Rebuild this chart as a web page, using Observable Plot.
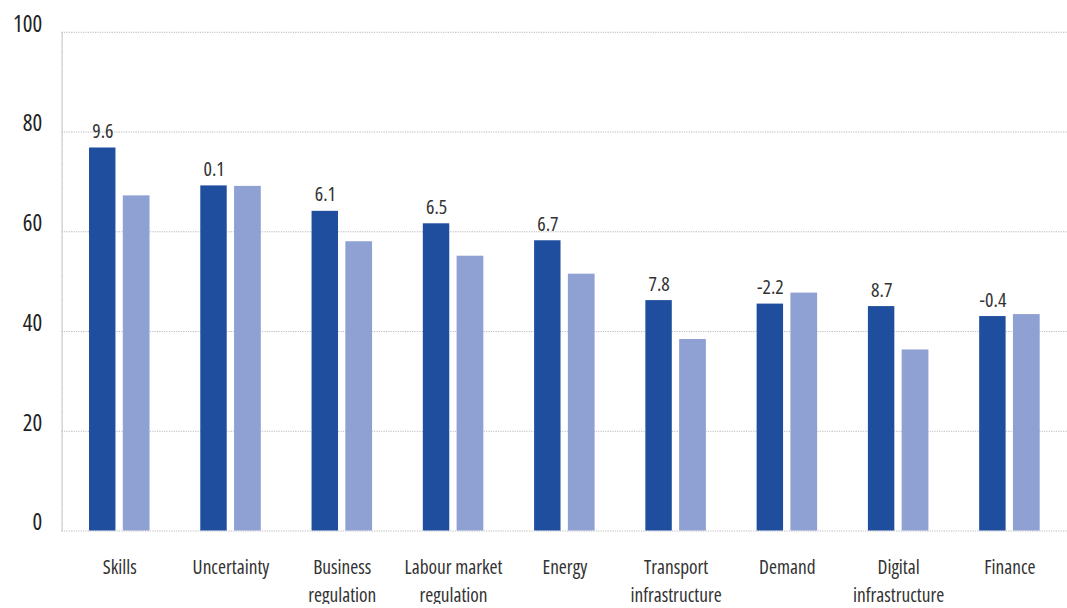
<!DOCTYPE html>
<html>
<head>
<meta charset="utf-8">
<script src="https://cdn.jsdelivr.net/npm/d3@7"></script>
<script src="https://cdn.jsdelivr.net/npm/@observablehq/plot@0.6"></script>
<style>
  html, body { margin: 0; padding: 0; background: #fff; overflow: hidden; }
  #chart svg { display: block; }
</style>
</head>
<body>
<div id="chart"></div>
<script>
// Obstacle categories, with line breaks for the axis labels
const categories = ["Skills", "Uncertainty", "Business regulation", "Labour market regulation", "Energy",
  "Transport infrastructure", "Demand", "Digital infrastructure", "Finance"];
const axisLabels = ["Skills", "Uncertainty", "Business\nregulation", "Labour market\nregulation", "Energy",
  "Transport\ninfrastructure", "Demand", "Digital\ninfrastructure", "Finance"];

// Share of firms reporting each obstacle (%)
const current = [76.8, 69.2, 64.1, 61.6, 58.2, 46.2, 45.5, 45.0, 43.0];
const previous = [67.2, 69.1, 58.0, 55.1, 51.5, 38.4, 47.7, 36.3, 43.4];
// Change between the two, printed above the dark bars
const change = ["9.6", "0.1", "6.1", "6.5", "6.7", "7.8", "-2.2", "8.7", "-0.4"];

const yTicks = [0, 20, 40, 60, 80, 100];

const rows = categories.map((c, i) => ({
  category: c,
  label: axisLabels[i],
  current: current[i],
  previous: previous[i],
  change: change[i]
}));

const chart = Plot.plot({
  width: 1074,
  height: 608,
  marginTop: 32,
  marginBottom: 74,
  marginLeft: 62,
  marginRight: 0,
  style: { fontFamily: "'Open Sans', sans-serif", fontStretch: "condensed", background: "#fff", overflow: "visible" },
  x: { domain: categories, padding: 0, axis: null },
  y: { domain: [0, 100], axis: null },
  marks: [
    Plot.ruleY(yTicks, { stroke: "#b8b8b8", strokeWidth: 1, strokeDasharray: "1.2,1.2" }),
    Plot.frame({ anchor: "left", stroke: "#b8b8b8", strokeDasharray: "1.2,1.2" }),
    Plot.barY(rows, { x: "category", y: "current", fill: "#1f4e9f", insetLeft: 25.6, insetRight: 59.8 }),
    Plot.barY(rows, { x: "category", y: "previous", fill: "#8fa0d2", insetLeft: 59.6, insetRight: 25.5 }),
    Plot.text(rows, {
      x: "category", y: "current", text: "change", dx: -17, dy: -10,
      lineAnchor: "bottom", fontSize: 20, fill: "#333"
    }),
    Plot.text(rows, {
      x: "category", text: "label", frameAnchor: "bottom", lineAnchor: "top",
      dy: 23, lineHeight: 1.45, fontSize: 19.5, fill: "#333"
    }),
    Plot.axisY({
      ticks: yTicks, tickSize: 0, tickPadding: 20, fontSize: 23, dy: -8,
      fill: "#222", tickFormat: d => String(d)
    })
  ]
});

document.getElementById("chart").append(chart);
</script>
</body>
</html>
